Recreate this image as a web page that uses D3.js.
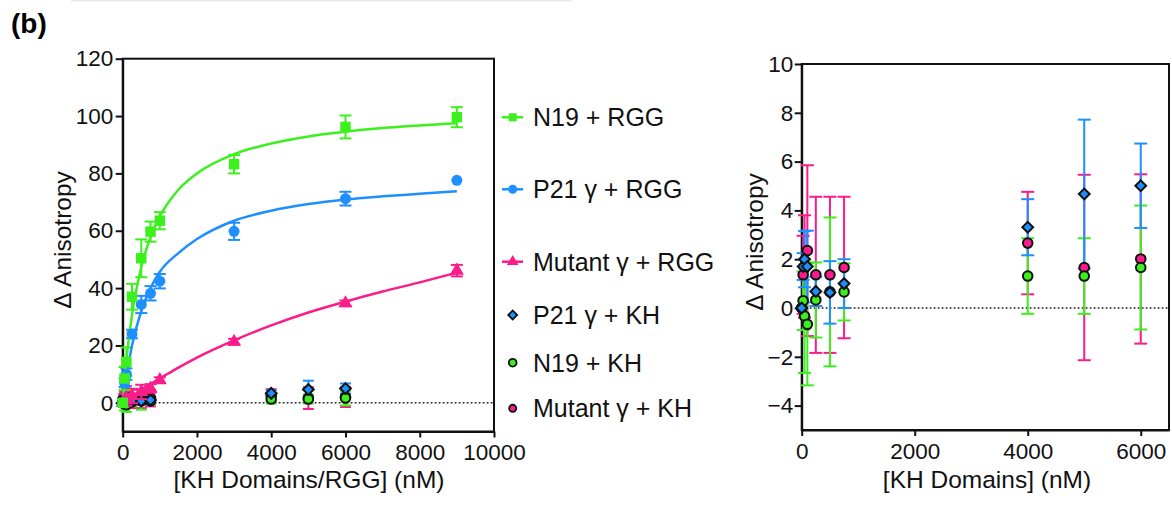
<!DOCTYPE html>
<html>
<head>
<meta charset="utf-8">
<script src="https://cdn.jsdelivr.net/npm/d3@7"></script>
<style>
body { margin: 0; background: #fff; }
svg { display: block; font-family: "Liberation Sans", Arial, sans-serif; }
.axis text { font-size: 22.5px; fill: #111; font-family: "Liberation Sans", Arial, sans-serif; }
.axis path, .axis line { stroke: #111; stroke-width: 2; }
.title { font-size: 24.5px; fill: #111; }
.legend text { font-size: 25px; fill: #111; }
</style>
</head>
<body>
<svg width="1172" height="506"></svg>
<script>
// RGG titraties (nM) en gemeten waardes
var rggX = [0, 50, 100, 250, 500, 750, 1000, 3000, 6000, 9000];
var n19Rgg = [0, 8.5, 14.3, 37, 50.4, 59.7, 63.5, 83.2, 96.2, 99.6];
var n19RggErr = [0, 4, 5, 4.5, 6.6, 3.5, 3, 3.2, 4, 3.5];
var p21Rgg = [0, 7, 10, 24, 34.3, 38.2, 42.4, 59.8, 71.2, 77.6];
var p21RggErr = [0, 1.5, 2, 1.5, 3, 2.5, 2.5, 3, 2.4, 0];
var mutRgg = [0, 1, 1.5, 2.4, 3.8, 5, 7.9, 21.3, 34.7, 46.1];
var mutRggErr = [0, 2, 2.5, 2.5, 2.5, 1.5, 1, 1, 1, 2];

// fit-lijnen
var fitX = [0, 100, 250, 500, 750, 1000, 1500, 2000, 3000, 4000, 5000, 6000, 7000, 8000, 9000];
var n19Fit = [0, 14.9, 30.6, 47.3, 57.8, 65, 74.3, 80, 86.7, 90.4, 92.9, 94.5, 95.8, 96.7, 97.5];
var p21Fit = [0, 9.4, 20, 32, 40, 45.7, 52.2, 57.1, 63.5, 67, 69.3, 70.9, 72, 72.9, 73.8];
var mutFit = [0, 0.9, 2.3, 4.5, 6.6, 8.5, 12.3, 15.8, 21.8, 27, 31.5, 35.3, 38.8, 42, 45.4];

// KH titraties
var khX = [0, 25, 50, 100, 250, 500, 750, 4000, 5000, 6000];
var p21Kh = [0, 1.7, 2.0, 1.7, 0.68, 0.64, 1.0, 3.31, 4.67, 5.01];
var p21KhErr = [0, 0.55, 1.15, 1.47, 0.6, 1.28, 1.0, 1.15, 3.05, 1.73];
var n19Kh = [0, 0.3, -0.33, -0.67, 0.33, 0.66, 0.66, 1.31, 1.31, 1.66];
var n19KhErr = [0, 1.2, 2.33, 2.5, 1.54, 3.05, 1.17, 1.55, 1.55, 2.54];
var mutKh = [0, 1.36, 1.7, 2.35, 1.36, 1.36, 1.66, 2.66, 1.66, 2.01];
var mutKhErr = [0, 1.6, 2.1, 3.5, 3.2, 3.2, 2.9, 2.1, 3.8, 3.47];

var leftXTicks = [0, 2000, 4000, 6000, 8000, 10000],
    leftYTicks = [0, 20, 40, 60, 80, 100, 120],
    rightXTicks = [0, 2000, 4000, 6000],
    rightYTicks = [-4, -2, 0, 2, 4, 6, 8, 10];

var legendLabels = ["N19 + RGG", "P21 γ + RGG", "Mutant γ + RGG", "P21 γ + KH", "N19 + KH", "Mutant γ + KH"];

var green = "#3cf01e", blue = "#1e8fff", pink = "#fb1b8b";

var svg = d3.select("svg");

// grijze rand bovenaan (uitsnede)
svg.append("rect").attr("x", 71).attr("y", 0).attr("width", 501).attr("height", 1.5).attr("fill", "#ececec");

svg.append("text")
    .attr("x", 11).attr("y", 33)
    .style("font-size", "28px").style("font-weight", "bold")
    .text("(b)");

var xL = d3.scaleLinear().domain([0, 10000]).range([122.7, 494]),
    yL = d3.scaleLinear().domain([-10, 120]).range([431.5, 58.7]);
var xR = d3.scaleLinear().domain([0, 6500]).range([801.7, 1169]),
    yR = d3.scaleLinear().domain([-5, 10]).range([430, 64]);

function frame(x, y, xTicks, yTicks, padX, padY) {
  var g = svg.append("g");
  g.append("rect")
      .attr("x", x.range()[0]).attr("y", y.range()[1])
      .attr("width", x.range()[1] - x.range()[0])
      .attr("height", y.range()[0] - y.range()[1])
      .attr("fill", "none").attr("stroke", "#111").attr("stroke-width", 2);
  g.append("g")
      .attr("class", "axis")
      .attr("transform", "translate(0," + y.range()[0] + ")")
      .call(d3.axisBottom(x).tickValues(xTicks).tickSize(6).tickSizeOuter(0).tickPadding(padX).tickFormat(d3.format("d")));
  g.append("g")
      .attr("class", "axis")
      .attr("transform", "translate(" + x.range()[0] + ",0)")
      .call(d3.axisLeft(y).tickValues(yTicks).tickSize(7).tickSizeOuter(0).tickPadding(padY).tickFormat(d3.format("d")));
  g.selectAll(".axis text").attr("font-family", null).attr("font-size", null);
  // stippellijn op nul
  g.append("line")
      .attr("x1", x(0)).attr("x2", x.range()[1])
      .attr("y1", y(0)).attr("y2", y(0))
      .attr("stroke", "#222").attr("stroke-width", 1.6).attr("stroke-dasharray", "1.8,2.2");
  return g;
}

function errorBars(g, x, y, xs, ys, es, color, cap) {
  var d = xs.map(function(v, i) { return {x: v, y: ys[i], e: es[i]}; }).filter(function(d) { return d.e > 0; });
  var eb = g.append("g").attr("stroke", color).attr("stroke-width", 2).attr("fill", "none");
  eb.selectAll(".v").data(d).enter().append("line")
      .attr("x1", function(d) { return x(d.x); }).attr("x2", function(d) { return x(d.x); })
      .attr("y1", function(d) { return y(d.y - d.e); }).attr("y2", function(d) { return y(d.y + d.e); });
  [-1, 1].forEach(function(s) {
    eb.selectAll(".c" + s).data(d).enter().append("line")
        .attr("x1", function(d) { return x(d.x) - cap / 2; }).attr("x2", function(d) { return x(d.x) + cap / 2; })
        .attr("y1", function(d) { return y(d.y + s * d.e); }).attr("y2", function(d) { return y(d.y + s * d.e); });
  });
}

function markers(g, x, y, xs, ys, type, size, fill, stroke, rot) {
  var sym = d3.symbol().type(type).size(size);
  g.append("g").selectAll("path")
      .data(xs.map(function(v, i) { return [v, ys[i]]; }))
    .enter().append("path")
      .attr("d", sym)
      .attr("transform", function(d) { return "translate(" + x(d[0]) + "," + y(d[1]) + ") rotate(" + (rot || 0) + ")"; })
      .attr("fill", fill)
      .attr("stroke", stroke || "none")
      .attr("stroke-width", stroke ? 2 : 0);
}

function fitLine(g, x, y, ys, color) {
  g.append("path")
      .datum(fitX.map(function(v, i) { return [v, ys[i]]; }))
      .attr("fill", "none").attr("stroke", color).attr("stroke-width", 2.5)
      .attr("d", d3.line().x(function(d) { return x(d[0]); }).y(function(d) { return y(d[1]); }).curve(d3.curveMonotoneX));
}

function khSeries(g, x, y, cap) {
  errorBars(g, x, y, khX, mutKh, mutKhErr, pink, cap);
  errorBars(g, x, y, khX, n19Kh, n19KhErr, green, cap);
  errorBars(g, x, y, khX, p21Kh, p21KhErr, blue, cap);
  markers(g, x, y, khX, mutKh, d3.symbolCircle, 72, pink, "#111");
  markers(g, x, y, khX, n19Kh, d3.symbolCircle, 72, green, "#111");
  markers(g, x, y, khX, p21Kh, d3.symbolSquare, 58, blue, "#111", 45);
}

// linker grafiek
var gl = frame(xL, yL, leftXTicks, leftYTicks, 7, 2.5);
khSeries(gl, xL, yL, 11);
errorBars(gl, xL, yL, rggX, mutRgg, mutRggErr, pink, 12);
errorBars(gl, xL, yL, rggX, p21Rgg, p21RggErr, blue, 12);
errorBars(gl, xL, yL, rggX, n19Rgg, n19RggErr, green, 12);
fitLine(gl, xL, yL, mutFit, pink);
fitLine(gl, xL, yL, p21Fit, blue);
fitLine(gl, xL, yL, n19Fit, green);
markers(gl, xL, yL, rggX, mutRgg, d3.symbolTriangle, 85, pink);
markers(gl, xL, yL, rggX, p21Rgg, d3.symbolCircle, 95, blue);
markers(gl, xL, yL, rggX, n19Rgg, d3.symbolSquare, 110, green);

// rechter grafiek
var gr = frame(xR, yR, rightXTicks, rightYTicks, 7, 1.5);
khSeries(gr, xR, yR, 13);

// as-titels
svg.append("text").attr("class", "title").attr("text-anchor", "middle")
    .attr("transform", "translate(71,240) rotate(-90)").text("Δ Anisotropy");
svg.append("text").attr("class", "title").attr("text-anchor", "middle")
    .attr("transform", "translate(763,242) rotate(-90)").text("Δ Anisotropy");
svg.append("text").attr("class", "title").attr("text-anchor", "middle")
    .attr("x", 309).attr("y", 488).text("[KH Domains/RGG] (nM)");
svg.append("text").attr("class", "title").attr("text-anchor", "middle")
    .attr("x", 987).attr("y", 488).text("[KH Domains] (nM)");

// legenda
var legendY = [117.3, 189.3, 261.7, 315, 362.7, 408.3];
var legendSym = [
  {type: d3.symbolSquare, size: 64, fill: green, line: green},
  {type: d3.symbolCircle, size: 64, fill: blue, line: blue},
  {type: d3.symbolTriangle, size: 60, fill: pink, line: pink},
  {type: d3.symbolSquare, size: 40, fill: blue, stroke: "#111", rot: 45},
  {type: d3.symbolCircle, size: 48, fill: green, stroke: "#111"},
  {type: d3.symbolCircle, size: 40, fill: pink, stroke: "#111"}
];
var lg = svg.append("g").attr("class", "legend");
legendLabels.forEach(function(label, i) {
  var s = legendSym[i], cy = legendY[i];
  if (s.line) {
    lg.append("line").attr("x1", 502).attr("x2", 523).attr("y1", cy).attr("y2", cy)
        .attr("stroke", s.line).attr("stroke-width", 2.5);
  }
  lg.append("path")
      .attr("d", d3.symbol().type(s.type).size(s.size))
      .attr("transform", "translate(512.7," + cy + ") rotate(" + (s.rot || 0) + ")")
      .attr("fill", s.fill).attr("stroke", s.stroke || "none").attr("stroke-width", s.stroke ? 1.8 : 0);
  lg.append("text").attr("x", 533).attr("y", cy + 9).text(label);
});
</script>
</body>
</html>
